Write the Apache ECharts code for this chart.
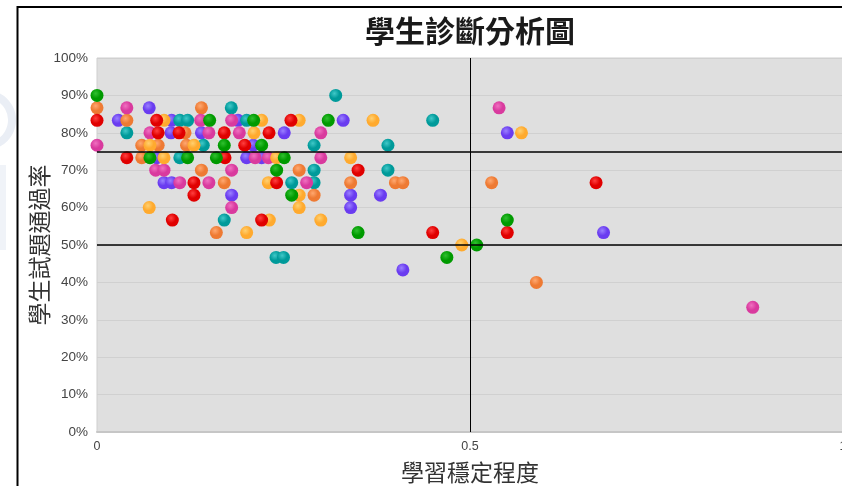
<!DOCTYPE html>
<html>
<head>
<meta charset="utf-8">
<script src="https://cdn.jsdelivr.net/npm/echarts@6/dist/echarts.min.js"></script>
<style>
html,body{margin:0;padding:0;background:#fff;}
#chart{width:842px;height:486px;}
</style>
</head>
<body>
<div id="chart"></div>
<script>
const chartTitle = '學生診斷分析圖';
const xAxisName = '學習穩定程度';
const yAxisName = '學生試題通過率';
const xTicks = [0, 0.5, 1];
const yTicks = [0, 10, 20, 30, 40, 50, 60, 70, 80, 90, 100];
const refX = [0.5];
const refY = [75, 50];

// [學習穩定程度, 通過率 %]
const greenPts = [
  [0, 90], [0.151, 83.33], [0.21, 83.33], [0.31, 83.33],
  [0.1706, 76.67], [0.2207, 76.67],
  [0.071, 73.33], [0.1215, 73.33], [0.160, 73.33], [0.251, 73.33],
  [0.2408, 70], [0.261, 63.33], [0.55, 56.67], [0.35, 53.33],
  [0.509, 50], [0.469, 46.67]
];
const orangePts = [
  [0, 86.67], [0.14, 86.67], [0.04, 83.33], [0.118, 80],
  [0.06, 76.67], [0.082, 76.67], [0.12, 76.67], [0.06, 73.33],
  [0.14, 70], [0.271, 70], [0.1706, 66.67], [0.34, 66.67],
  [0.40, 66.67], [0.41, 66.67], [0.529, 66.67], [0.291, 63.33],
  [0.16, 53.33], [0.589, 40]
];
const redPts = [
  [0, 83.33], [0.08, 83.33], [0.26, 83.33], [0.082, 80], [0.11, 80],
  [0.1706, 80], [0.2306, 80], [0.198, 76.67], [0.04, 73.33],
  [0.1716, 73.33], [0.35, 70], [0.13, 66.67], [0.2408, 66.67],
  [0.669, 66.67], [0.13, 63.33], [0.101, 56.67], [0.2207, 56.67],
  [0.45, 53.33], [0.55, 53.33]
];
const purplePts = [
  [0.07, 86.67], [0.0286, 83.33], [0.1, 83.33], [0.189, 83.33],
  [0.33, 83.33], [0.0992, 80], [0.14, 80], [0.251, 80], [0.55, 80],
  [0.2095, 76.67], [0.08, 73.33], [0.2006, 73.33], [0.2207, 73.33],
  [0.0898, 66.67], [0.1, 66.67], [0.1805, 63.33], [0.34, 63.33],
  [0.38, 63.33], [0.34, 60], [0.679, 53.33], [0.41, 43.33]
];
const magentaPts = [
  [0.04, 86.67], [0.539, 86.67], [0.139, 83.33], [0.1805, 83.33],
  [0.071, 80], [0.150, 80], [0.1908, 80], [0.300, 80], [0, 76.67],
  [0.212, 73.33], [0.2297, 73.33], [0.300, 73.33], [0.0787, 70],
  [0.0898, 70], [0.1805, 70], [0.111, 66.67], [0.150, 66.67],
  [0.281, 66.67], [0.1805, 60], [0.879, 33.33]
];
const tealPts = [
  [0.32, 90], [0.18, 86.67], [0.111, 83.33], [0.1215, 83.33],
  [0.2006, 83.33], [0.45, 83.33], [0.04, 80], [0.1425, 76.67],
  [0.291, 76.67], [0.39, 76.67], [0.111, 73.33], [0.291, 70],
  [0.39, 70], [0.261, 66.67], [0.291, 66.67], [0.1706, 56.67],
  [0.24, 46.67], [0.25, 46.67]
];
const yellowPts = [
  [0.0898, 83.33], [0.2207, 83.33], [0.271, 83.33], [0.37, 83.33],
  [0.2105, 80], [0.569, 80], [0.071, 76.67], [0.130, 76.67],
  [0.0898, 73.33], [0.2408, 73.33], [0.34, 73.33], [0.2297, 66.67],
  [0.271, 63.33], [0.070, 60], [0.271, 60], [0.231, 56.67],
  [0.300, 56.67], [0.2006, 53.33], [0.489, 50]
];

const groups = [
  { data: purplePts,  color: '#6a3cf0', light: '#9a80ff' },
  { data: tealPts,    color: '#009a9a', light: '#40c8c8' },
  { data: orangePts,  color: '#ee7a33', light: '#ffa870' },
  { data: magentaPts, color: '#d93a9e', light: '#f070c0' },
  { data: yellowPts,  color: '#ffaa2e', light: '#ffd070' },
  { data: redPts,     color: '#e00000', light: '#ff4040' },
  { data: greenPts,   color: '#009a00', light: '#30c030' }
];

const series = groups.map(g => ({
  type: 'scatter',
  data: g.data,
  symbolSize: 13,
  z: 3,
  itemStyle: {
    opacity: 1,
    color: {
      type: 'radial', x: 0.4, y: 0.35, r: 0.7,
      colorStops: [{ offset: 0, color: g.light }, { offset: 0.55, color: g.color }, { offset: 1, color: g.color }]
    }
  },
  emphasis: { disabled: true }
}));

series.unshift({
  type: 'scatter',
  data: [],
  z: 2,
  markLine: {
    silent: true,
    symbol: 'none',
    label: { show: false },
    animation: false,
    data: refX.map(v => ({ xAxis: v, lineStyle: { color: '#000', width: 1, type: 'solid' } }))
      .concat(refY.map(v => ({ yAxis: v, lineStyle: { color: '#000', width: 1.5, type: 'solid' } })))
  }
});

const chart = echarts.init(document.getElementById('chart'), null, { renderer: 'canvas' });
chart.setOption({
  animation: false,
  backgroundColor: '#ffffff',
  title: {
    text: chartTitle,
    left: 465,
    top: 11,
    textAlign: 'center',
    textStyle: { fontFamily: 'Noto Sans CJK TC', fontSize: 30, fontWeight: 'bold', color: '#1a1a1a' }
  },
  grid: {
    left: 97, top: 58, width: 746, height: 374,
    outerBoundsMode: 'none', containLabel: false,
    show: true, backgroundColor: '#dfdfdf', borderColor: '#cfcfcf', borderWidth: 1
  },
  xAxis: {
    type: 'value', min: xTicks[0], max: xTicks[xTicks.length - 1], interval: 0.5,
    name: xAxisName, nameLocation: 'middle', nameGap: 29, nameMoveOverlap: false,
    nameTextStyle: { fontFamily: 'Noto Sans CJK TC', fontSize: 23, color: '#333' },
    axisLine: { show: true, lineStyle: { color: '#c6c6c6', width: 2 } },
    axisTick: { show: false },
    splitLine: { show: false },
    axisLabel: { color: '#444', fontSize: 12.5, margin: 8, fontFamily: 'Liberation Sans',
      formatter: v => String(v) }
  },
  yAxis: {
    type: 'value', min: yTicks[0], max: yTicks[yTicks.length - 1], interval: 10,
    name: yAxisName, nameLocation: 'middle', nameGap: 46, nameMoveOverlap: false,
    nameTextStyle: { fontFamily: 'Noto Sans CJK TC', fontSize: 23, color: '#333' },
    axisLine: { show: false },
    axisTick: { show: false },
    splitLine: { show: true, lineStyle: { color: '#d0d0d0', width: 1 } },
    axisLabel: { color: '#444', fontSize: 13.5, margin: 9, fontFamily: 'Liberation Sans',
      formatter: '{value}%' }
  },
  graphic: [
    { type: 'arc', silent: true, z: -1,
      shape: { cx: -14, cy: 120, r: 26, startAngle: -Math.PI / 2.4, endAngle: Math.PI / 2.4 },
      style: { stroke: '#eaeef5', lineWidth: 8, fill: null } },
    { type: 'rect', silent: true, z: -1,
      shape: { x: 0, y: 165, width: 6, height: 85 },
      style: { fill: '#f0f3f8' } },
    { type: 'line', silent: true, z: 100,
      shape: { x1: 17.5, y1: 6, x2: 17.5, y2: 486 },
      style: { stroke: '#000', lineWidth: 2 } },
    { type: 'line', silent: true, z: 100,
      shape: { x1: 17, y1: 7, x2: 842, y2: 7 },
      style: { stroke: '#000', lineWidth: 2 } }
  ],
  series: series
});
</script>
</body>
</html>
